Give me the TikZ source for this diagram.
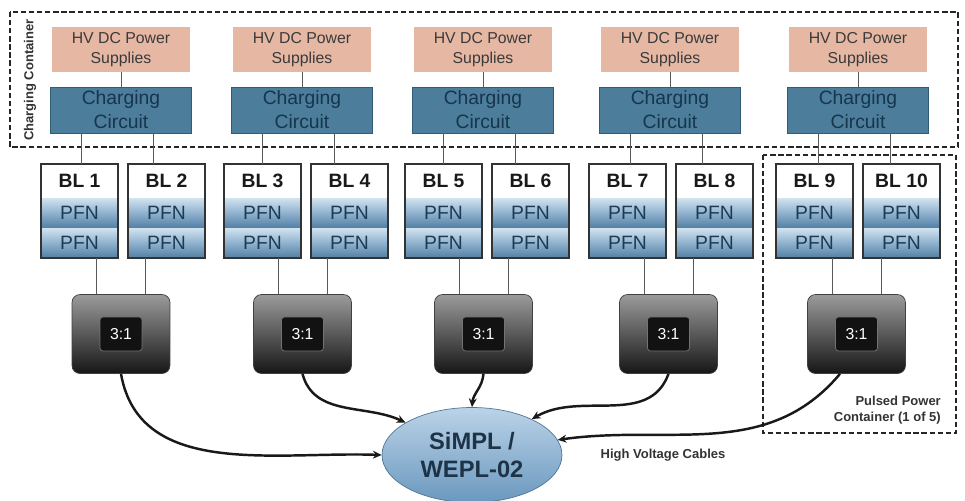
\documentclass[tikz,border=0pt]{standalone}
\usepackage{fontspec}
\setmainfont{Liberation Sans}
\usetikzlibrary{shapes.geometric,arrows.meta}

\definecolor{supplyfill}{HTML}{E6B8A4}
\definecolor{supplytext}{HTML}{3A3A3A}
\definecolor{circfill}{HTML}{4C7D9A}
\definecolor{circdraw}{HTML}{2F5C77}
\definecolor{circtext}{HTML}{17354D}
\definecolor{pfntop}{HTML}{D2E3F0}
\definecolor{pfnmid}{HTML}{8EB1CE}
\definecolor{pfnbot}{HTML}{527FA3}
\definecolor{pfntext}{HTML}{1E3A56}
\definecolor{frame}{HTML}{333333}
\definecolor{trtop}{HTML}{9B9B9B}
\definecolor{trbot}{HTML}{161616}
\definecolor{simpltop}{HTML}{BBD3E8}
\definecolor{simplbot}{HTML}{6A98BE}
\definecolor{simpldraw}{HTML}{4F7696}
\definecolor{simpltext}{HTML}{1F3347}

\tikzset{
	supply/.style={fill=supplyfill, text=supplytext, minimum width=2.78cm, minimum height=0.9cm,
		inner sep=0pt, align=center, font=\fontsize{9}{11}\selectfont},
	circuit/.style={fill=circfill, draw=circdraw, text=circtext, minimum width=2.82cm, minimum height=0.92cm,
		inner sep=0pt, align=center, font=\fontsize{11}{13.6}\selectfont},
	bltop/.style={fill=white, text=black!90, minimum width=1.54cm, minimum height=0.68cm,
		inner sep=0pt, font=\fontsize{11}{13}\selectfont\bfseries},
	pfn/.style={top color=pfntop, bottom color=pfnbot, middle color=pfnmid, text=pfntext,
		minimum width=1.54cm, minimum height=0.6cm, inner sep=0pt, font=\fontsize{11}{13}\selectfont},
	blframe/.style={draw=frame, line width=1.1pt},
	transformer/.style={rounded corners=0.16cm, top color=trtop, bottom color=trbot, draw=black!75,
		minimum width=1.96cm, minimum height=1.58cm},
	ratio/.style={rounded corners=0.06cm, fill=black!93, draw=black!55, text=white,
		minimum width=0.84cm, minimum height=0.68cm, inner sep=0pt, font=\fontsize{9}{11}\selectfont},
	wire/.style={draw=black!65, line width=0.5pt},
	cable/.style={line width=1.4pt, black!90, -{Stealth[length=5pt,width=4.5pt]}},
	container/.style={draw=black!85, line width=0.9pt, dash pattern=on 3pt off 1.6pt},
	caption/.style={text=black!80, font=\fontsize{7.4}{9}\selectfont\bfseries},
}

\begin{document}
\begin{tikzpicture}[x=0.02cm, y=-0.02cm]

	\useasboundingbox (0,0) rectangle (965,501);

	% containers
	\draw[container] (10,12) rectangle (958,147);
	\draw[container] (763,155) rectangle (956,433);
	\node[caption, rotate=90] (chgbox) at (30,80) {Charging Container};
	\node[caption, align=right, anchor=east] (pulsebox) at (947,410) {Pulsed Power\\Container (1 of 5)};

	% supplies
	\node[supply] (hv1) at (121,49.5) {HV DC Power\\Supplies};
	\node[supply] (hv2) at (302,49.5) {HV DC Power\\Supplies};
	\node[supply] (hv3) at (483,49.5) {HV DC Power\\Supplies};
	\node[supply] (hv4) at (670,49.5) {HV DC Power\\Supplies};
	\node[supply] (hv5) at (858,49.5) {HV DC Power\\Supplies};

	% charging circuits
	\node[circuit] (cc1) at (121,110) {Charging\\Circuit};
	\node[circuit] (cc2) at (302,110) {Charging\\Circuit};
	\node[circuit] (cc3) at (483,110) {Charging\\Circuit};
	\node[circuit] (cc4) at (670,110) {Charging\\Circuit};
	\node[circuit] (cc5) at (858,110) {Charging\\Circuit};

	\draw[wire] (hv1) -- (cc1);
	\draw[wire] (hv2) -- (cc2);
	\draw[wire] (hv3) -- (cc3);
	\draw[wire] (hv4) -- (cc4);
	\draw[wire] (hv5) -- (cc5);

	% beam lines
	\node[bltop] (bl1) at (79.5,181) {BL 1};
	\node[bltop] (bl2) at (166.5,181) {BL 2};
	\node[bltop] (bl3) at (262.5,181) {BL 3};
	\node[bltop] (bl4) at (349.5,181) {BL 4};
	\node[bltop] (bl5) at (443.5,181) {BL 5};
	\node[bltop] (bl6) at (530.5,181) {BL 6};
	\node[bltop] (bl7) at (627.5,181) {BL 7};
	\node[bltop] (bl8) at (714.5,181) {BL 8};
	\node[bltop] (bl9) at (814.5,181) {BL 9};
	\node[bltop] (bl10) at (901.5,181) {BL 10};

	% pfn rows
	\node[pfn] (bl1a) at (79.5,213) {PFN};   \node[pfn] (bl1b) at (79.5,243) {PFN};
	\node[pfn] (bl2a) at (166.5,213) {PFN};  \node[pfn] (bl2b) at (166.5,243) {PFN};
	\node[pfn] (bl3a) at (262.5,213) {PFN};  \node[pfn] (bl3b) at (262.5,243) {PFN};
	\node[pfn] (bl4a) at (349.5,213) {PFN};  \node[pfn] (bl4b) at (349.5,243) {PFN};
	\node[pfn] (bl5a) at (443.5,213) {PFN};  \node[pfn] (bl5b) at (443.5,243) {PFN};
	\node[pfn] (bl6a) at (530.5,213) {PFN};  \node[pfn] (bl6b) at (530.5,243) {PFN};
	\node[pfn] (bl7a) at (627.5,213) {PFN};  \node[pfn] (bl7b) at (627.5,243) {PFN};
	\node[pfn] (bl8a) at (714.5,213) {PFN};  \node[pfn] (bl8b) at (714.5,243) {PFN};
	\node[pfn] (bl9a) at (814.5,213) {PFN};  \node[pfn] (bl9b) at (814.5,243) {PFN};
	\node[pfn] (bl10a) at (901.5,213) {PFN}; \node[pfn] (bl10b) at (901.5,243) {PFN};

	% frames
	\draw[blframe] (bl1.north west) rectangle (bl1b.south east);
	\draw[blframe] (bl2.north west) rectangle (bl2b.south east);
	\draw[blframe] (bl3.north west) rectangle (bl3b.south east);
	\draw[blframe] (bl4.north west) rectangle (bl4b.south east);
	\draw[blframe] (bl5.north west) rectangle (bl5b.south east);
	\draw[blframe] (bl6.north west) rectangle (bl6b.south east);
	\draw[blframe] (bl7.north west) rectangle (bl7b.south east);
	\draw[blframe] (bl8.north west) rectangle (bl8b.south east);
	\draw[blframe] (bl9.north west) rectangle (bl9b.south east);
	\draw[blframe] (bl10.north west) rectangle (bl10b.south east);

	% charging to beam lines
	\draw[wire] ([xshift=-0.8cm]cc1.south) -- ([xshift=-0.8cm]cc1.south |- bl1.north);
	\draw[wire] ([xshift=0.64cm]cc1.south) -- ([xshift=0.64cm]cc1.south |- bl2.north);
	\draw[wire] ([xshift=-0.8cm]cc2.south) -- ([xshift=-0.8cm]cc2.south |- bl3.north);
	\draw[wire] ([xshift=0.64cm]cc2.south) -- ([xshift=0.64cm]cc2.south |- bl4.north);
	\draw[wire] ([xshift=-0.8cm]cc3.south) -- ([xshift=-0.8cm]cc3.south |- bl5.north);
	\draw[wire] ([xshift=0.64cm]cc3.south) -- ([xshift=0.64cm]cc3.south |- bl6.north);
	\draw[wire] ([xshift=-0.8cm]cc4.south) -- ([xshift=-0.8cm]cc4.south |- bl7.north);
	\draw[wire] ([xshift=0.64cm]cc4.south) -- ([xshift=0.64cm]cc4.south |- bl8.north);
	\draw[wire] ([xshift=-0.8cm]cc5.south) -- ([xshift=-0.8cm]cc5.south |- bl9.north);
	\draw[wire] ([xshift=0.64cm]cc5.south) -- ([xshift=0.64cm]cc5.south |- bl10.north);

	% transformers
	\node[transformer] (tr1) at (121,334) {};
	\node[transformer] (tr2) at (302.5,334) {};
	\node[transformer] (tr3) at (483.5,334) {};
	\node[transformer] (tr4) at (668.5,334) {};
	\node[transformer] (tr5) at (856.5,334) {};
	\node[ratio] (r1) at (tr1) {3:1};
	\node[ratio] (r2) at (tr2) {3:1};
	\node[ratio] (r3) at (tr3) {3:1};
	\node[ratio] (r4) at (tr4) {3:1};
	\node[ratio] (r5) at (tr5) {3:1};

	% beam lines to transformers
	\draw[wire] ([xshift=-0.49cm]tr1.north) -- ([xshift=-0.49cm]tr1.north |- bl1b.south);
	\draw[wire] ([xshift=0.49cm]tr1.north) -- ([xshift=0.49cm]tr1.north |- bl2b.south);
	\draw[wire] ([xshift=-0.49cm]tr2.north) -- ([xshift=-0.49cm]tr2.north |- bl3b.south);
	\draw[wire] ([xshift=0.49cm]tr2.north) -- ([xshift=0.49cm]tr2.north |- bl4b.south);
	\draw[wire] ([xshift=-0.49cm]tr3.north) -- ([xshift=-0.49cm]tr3.north |- bl5b.south);
	\draw[wire] ([xshift=0.49cm]tr3.north) -- ([xshift=0.49cm]tr3.north |- bl6b.south);
	\draw[wire] ([xshift=-0.49cm]tr4.north) -- ([xshift=-0.49cm]tr4.north |- bl7b.south);
	\draw[wire] ([xshift=0.49cm]tr4.north) -- ([xshift=0.49cm]tr4.north |- bl8b.south);
	\draw[wire] ([xshift=-0.49cm]tr5.north) -- ([xshift=-0.49cm]tr5.north |- bl9b.south);
	\draw[wire] ([xshift=0.49cm]tr5.north) -- ([xshift=0.49cm]tr5.north |- bl10b.south);

	% target
	\node[ellipse, minimum width=3.6cm, minimum height=1.9cm, inner sep=0pt,
		top color=simpltop, bottom color=simplbot, draw=simpldraw, text=simpltext,
		align=center, font=\fontsize{13.5}{15.5}\selectfont\bfseries] (simpl) at (472,455) {SiMPL /\\WEPL-02};

	% cables
	\draw[cable] (tr1.south) to[out=-80, in=178] (simpl.180);
	\draw[cable] (tr2.south) to[out=-75, in=155] (simpl.154);
	\draw[cable] (tr3.south) to[out=-95, in=85] (simpl.90);
	\draw[cable] (tr4.south) to[out=-110, in=30] (simpl.31);
	\draw[cable] ([xshift=-0.33cm]tr5.south) to[out=-130, in=8] (simpl.10);
	\node[caption] (hvlabel) at (663,455) {High Voltage Cables};

\end{tikzpicture}
\end{document}
